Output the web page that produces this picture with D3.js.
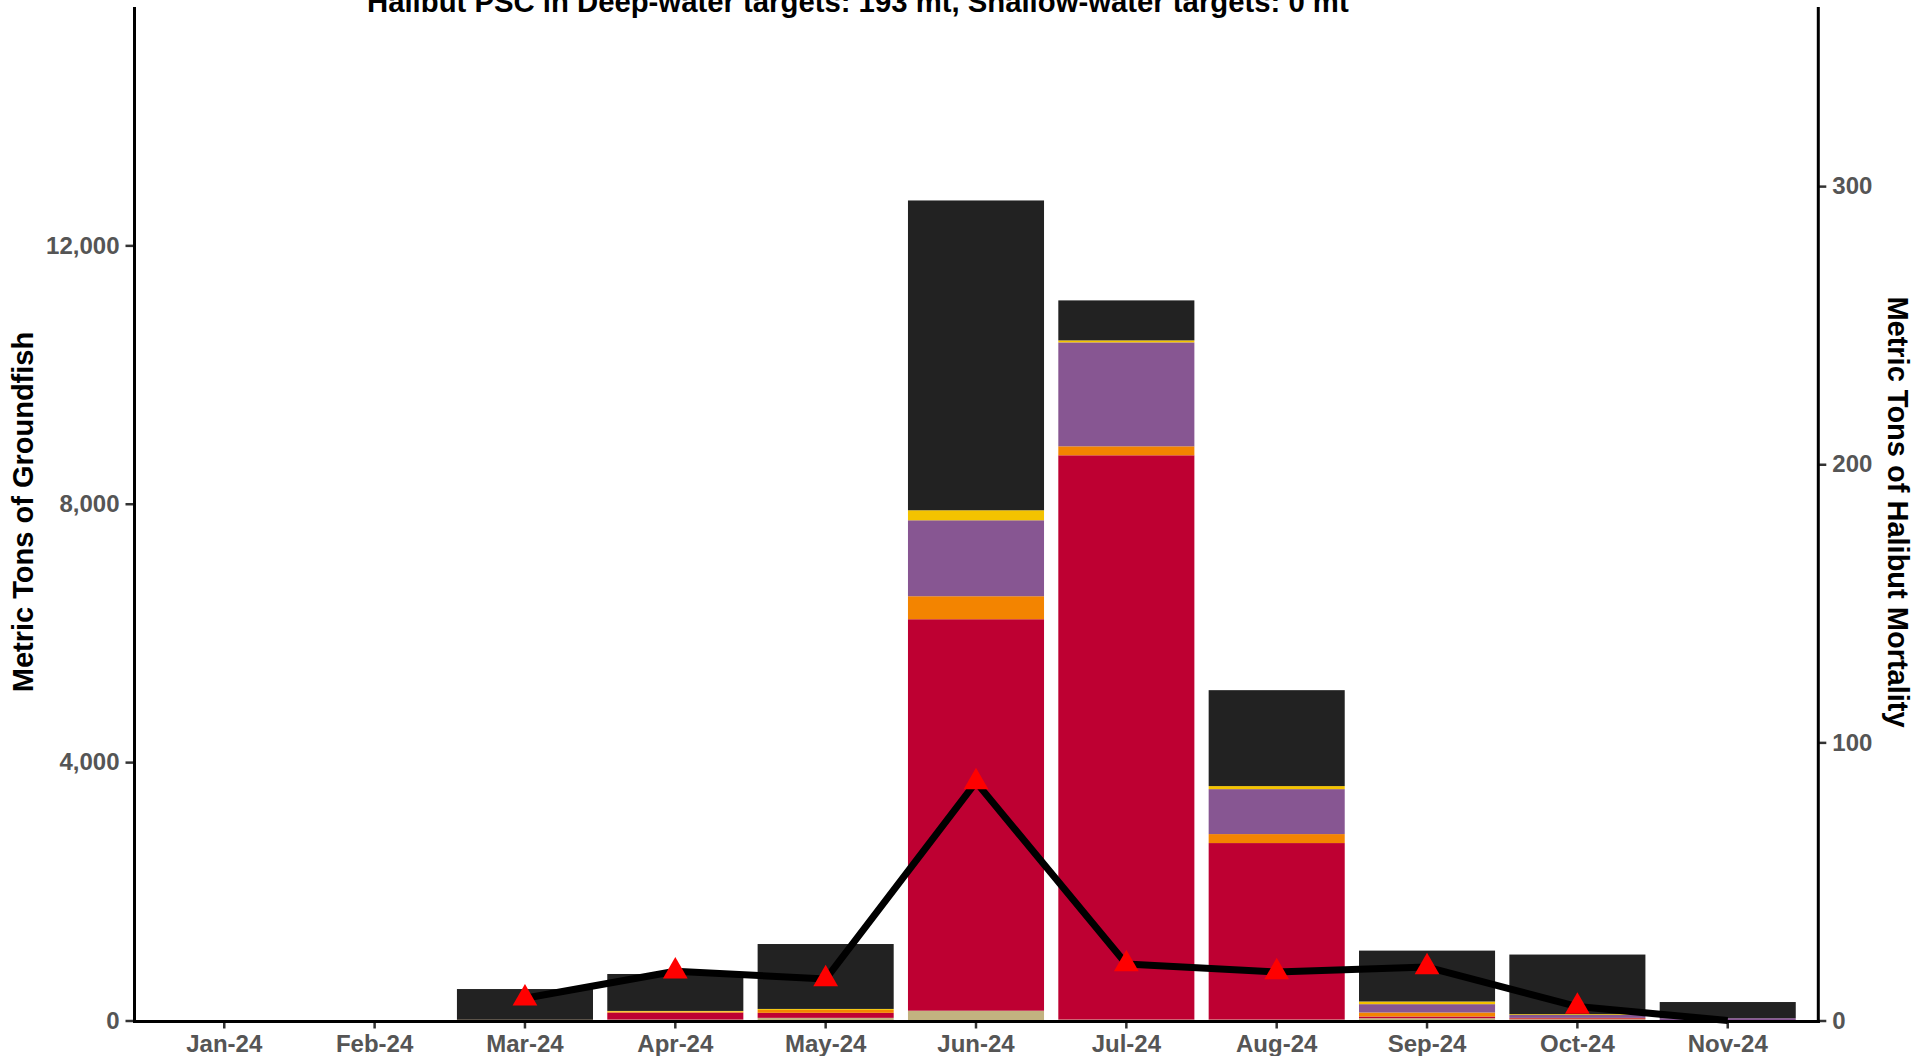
<!DOCTYPE html>
<html>
<head>
<meta charset="utf-8">
<script src="https://cdn.jsdelivr.net/npm/d3@7"></script>
<style>
    body { margin: 0; background: #fff; }
    text { font-family: "Liberation Sans", Arial, sans-serif; font-weight: bold; }
</style>
</head>
<body>
<svg id="chart" width="1920" height="1056"></svg>
<script>
// months on the x axis
const months = ['Jan-24', 'Feb-24', 'Mar-24', 'Apr-24', 'May-24', 'Jun-24',
    'Jul-24', 'Aug-24', 'Sep-24', 'Oct-24', 'Nov-24'];

// groundfish catch by stack layer (bottom to top), metric tons
const layerTan    = [0, 0, 0,   15,   41,  152,   15,   15,  36,  20,   0];
const layerRed    = [0, 0, 0,  108,   77, 6060, 8735, 2732,  26,  15,   0];
const layerOrange = [0, 0, 12,  15,   46,  356,  139,  139,  62,   5,   0];
const layerPurple = [0, 0, 0,    0,    0, 1176, 1609,  696, 129,  46,  36];
const layerYellow = [0, 0, 0,   10,   15,  155,   31,   47,  41,  12,   0];
const layerBlack  = [0, 0, 475, 572, 1005, 4796,  619, 1485, 788, 923, 250];

// halibut mortality (right axis), metric tons
const halibut = [null, null, 8.0, 17.7, 14.9, 85.7, 20.3, 17.4, 19.2, 5.0, 0];

const leftTicks = [0, 4000, 8000, 12000];
const rightTicks = [0, 100, 200, 300];

const titleText = 'Halibut PSC in Deep-water targets: 193 mt, Shallow-water targets: 0 mt';

let layers = [
    {key: 'tan', values: layerTan, color: '#C2B280'},
    {key: 'red', values: layerRed, color: '#BE0032'},
    {key: 'orange', values: layerOrange, color: '#F38400'},
    {key: 'purple', values: layerPurple, color: '#875692'},
    {key: 'yellow', values: layerYellow, color: '#F3C300'},
    {key: 'black', values: layerBlack, color: '#222222'}
];

let rows = months.map((m, i) => {
    let r = {month: m};
    layers.forEach(l => r[l.key] = l.values[i]);
    return r;
});

let svg = d3.select('#chart');

let plotLeft = 134.5, plotRight = 1818.3;
let plotBottom = 1020.5, plotTop = 7;

let xScale = d3.scaleBand()
    .domain(months)
    .range([149.1, 1802.9])
    .paddingInner(0.095)
    .paddingOuter(0.0475);

let yLeft = d3.scaleLinear().domain([0, 15690]).range([plotBottom, plotTop]);
let yRight = d3.scaleLinear().domain([0, 364.4]).range([plotBottom, plotTop]);

let stack = d3.stack().keys(layers.map(l => l.key));
let series = stack(rows);
let colorOf = d3.scaleOrdinal().domain(layers.map(l => l.key)).range(layers.map(l => l.color));

// stacked bars
svg.append('g').attr('id', 'bars')
    .selectAll('g')
    .data(series)
    .enter()
    .append('g')
    .style('fill', d => colorOf(d.key))
    .selectAll('rect')
    .data(d => d)
    .enter()
    .append('rect')
    .attr('x', d => xScale(d.data.month))
    .attr('y', d => yLeft(d[1]))
    .attr('height', d => Math.max(0, yLeft(d[0]) - yLeft(d[1])))
    .attr('width', xScale.bandwidth());

// axes
let xAxis = d3.axisBottom(xScale).tickSize(7).tickPadding(6);
let yAxisL = d3.axisLeft(yLeft).tickValues(leftTicks).tickFormat(d3.format(',')).tickSize(8).tickPadding(6);
let yAxisR = d3.axisRight(yRight).tickValues(rightTicks).tickSize(8).tickPadding(6);

function styleAxis(g) {
    g.select('.domain').remove();
    g.selectAll('.tick line').attr('stroke', '#333').attr('stroke-width', 2.5);
    g.selectAll('.tick text').attr('fill', '#555').style('font-size', '24px');
}

svg.append('g')
    .attr('id', 'xAxis')
    .attr('transform', `translate(0,${plotBottom + 1})`)
    .call(xAxis)
    .call(styleAxis);

svg.append('g')
    .attr('id', 'yAxisL')
    .attr('transform', `translate(${plotLeft - 1},0)`)
    .call(yAxisL)
    .call(styleAxis);

svg.append('g')
    .attr('id', 'yAxisR')
    .attr('transform', `translate(${plotRight},0)`)
    .call(yAxisR)
    .call(styleAxis);

// axis lines, thick and black
svg.append('line').attr('x1', plotLeft).attr('x2', plotLeft).attr('y1', plotTop).attr('y2', plotBottom + 2.5)
    .attr('stroke', '#000').attr('stroke-width', 3);
svg.append('line').attr('x1', plotRight).attr('x2', plotRight).attr('y1', plotTop).attr('y2', plotBottom + 2.5)
    .attr('stroke', '#000').attr('stroke-width', 3);
svg.append('line').attr('x1', plotLeft - 1.5).attr('x2', plotRight + 1.5).attr('y1', plotBottom + 1).attr('y2', plotBottom + 1)
    .attr('stroke', '#000').attr('stroke-width', 3);

// halibut line + triangles
let pts = months.map((m, i) => ({month: m, value: halibut[i]}));
let line = d3.line()
    .defined(d => d.value !== null)
    .x(d => xScale(d.month) + xScale.bandwidth() / 2)
    .y(d => yRight(d.value));

svg.append('path')
    .datum(pts)
    .attr('d', line)
    .attr('fill', 'none')
    .attr('stroke', '#000')
    .attr('stroke-width', 7)
    .attr('stroke-linejoin', 'round');

svg.append('g').attr('id', 'markers')
    .selectAll('path')
    .data(pts.filter(d => d.value))
    .enter()
    .append('path')
    .attr('d', d3.symbol().type(d3.symbolTriangle).size(265))
    .attr('transform', d => `translate(${xScale(d.month) + xScale.bandwidth() / 2},${yRight(d.value)})`)
    .attr('fill', '#FF0000');

// titles (the top of the chart title sits above the page edge, as in the original)
svg.append('text')
    .attr('x', 367).attr('y', 12)
    .style('font-size', '29.3px')
    .attr('fill', '#000')
    .text(titleText);

svg.append('text')
    .attr('transform', 'translate(23,512) rotate(-90)')
    .attr('text-anchor', 'middle')
    .attr('dominant-baseline', 'central')
    .style('font-size', '29px')
    .text('Metric Tons of Groundfish');

svg.append('text')
    .attr('transform', 'translate(1898,512) rotate(90)')
    .attr('text-anchor', 'middle')
    .attr('dominant-baseline', 'central')
    .style('font-size', '29px')
    .text('Metric Tons of Halibut Mortality');
</script>
</body>
</html>
